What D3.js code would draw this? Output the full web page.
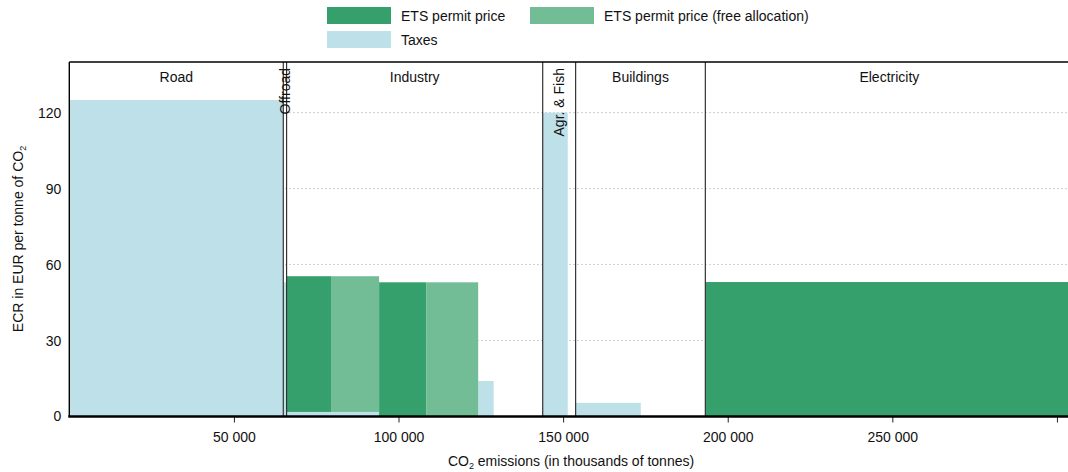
<!DOCTYPE html>
<html>
<head>
<meta charset="utf-8">
<script src="https://cdn.jsdelivr.net/npm/d3@7"></script>
<style>
  body { margin: 0; background: #fff; }
  svg { font-family: "Liberation Sans", Arial, sans-serif; }
</style>
</head>
<body>
<div id="chart"></div>
<script>
// sectors along the x axis (cumulative emissions, thousands of tonnes)
var sectors      = ['Road', 'Offroad', 'Industry', 'Agr. & Fish', 'Buildings', 'Electricity'];
var sectorEnd    = [65000, 66000, 143800, 153800, 193200, 305000];
var rotatedLabel = [false, true, false, true, false, false];

// blocks inside the sectors
var blockStart = [0, 65000, 66000, 94100, 124200, 143800, 153800, 193200];
var blockEnd   = [65000, 66000, 94100, 124200, 128900, 151400, 173600, 305000];
var paidEnd    = [null, null, 79500, 108400, null, null, null, 305000]; // ETS paid part ends, free allocation after
var taxes      = [125, 53, 1.8, 0, 14, 120, 5.4, 0];
var etsPrice   = [0, 0, 53.6, 53, 0, 0, 0, 53.1];

var yTicks = [0, 30, 60, 90, 120];
var xTicks = [50000, 100000, 150000, 200000, 250000, 300000];
var xTickLabels = ['50 000', '100 000', '150 000', '200 000', '250 000', '']; // last one falls off the page

var legendLabels = ['ETS permit price', 'ETS permit price (free allocation)', 'Taxes'];
var colors = { ets: '#35a06b', free: '#72bd95', tax: '#bee0e9' };

var width = 1068, height = 472;
var margin = { left: 69.3, top: 62, bottom: 416.5 };

var svg = d3.select('#chart').append('svg')
  .attr('width', width).attr('height', height);

var x = d3.scaleLinear().domain([0, 305000]).range([margin.left, 1073.4]);
var y = d3.scaleLinear().domain([0, 140]).range([margin.bottom, margin.top]);

// gridlines
svg.append('g').selectAll('line')
  .data(yTicks.slice(1))
  .enter().append('line')
  .attr('x1', margin.left).attr('x2', width)
  .attr('y1', function (d) { return y(d); })
  .attr('y2', function (d) { return y(d); })
  .attr('stroke', '#b5b5b5')
  .attr('stroke-width', 1)
  .attr('stroke-dasharray', '1.3,2.7');

// bars
var blocks = d3.range(blockStart.length);
var g = svg.append('g');

// taxes at the bottom
g.selectAll('rect.tax').data(blocks.filter(function (i) { return taxes[i] > 0; }))
  .enter().append('rect').attr('class', 'tax')
  .attr('x', function (i) { return x(blockStart[i]); })
  .attr('width', function (i) { return x(blockEnd[i]) - x(blockStart[i]); })
  .attr('y', function (i) { return y(taxes[i]); })
  .attr('height', function (i) { return y(0) - y(taxes[i]); })
  .attr('fill', colors.tax);

// ETS paid part
g.selectAll('rect.ets').data(blocks.filter(function (i) { return etsPrice[i] > 0; }))
  .enter().append('rect').attr('class', 'ets')
  .attr('x', function (i) { return x(blockStart[i]); })
  .attr('width', function (i) { return x(paidEnd[i]) - x(blockStart[i]); })
  .attr('y', function (i) { return y(taxes[i] + etsPrice[i]); })
  .attr('height', function (i) { return y(taxes[i]) - y(taxes[i] + etsPrice[i]); })
  .attr('fill', colors.ets);

// ETS free allocation part
g.selectAll('rect.free').data(blocks.filter(function (i) { return etsPrice[i] > 0 && paidEnd[i] < blockEnd[i]; }))
  .enter().append('rect').attr('class', 'free')
  .attr('x', function (i) { return x(paidEnd[i]); })
  .attr('width', function (i) { return x(blockEnd[i]) - x(paidEnd[i]); })
  .attr('y', function (i) { return y(taxes[i] + etsPrice[i]); })
  .attr('height', function (i) { return y(taxes[i]) - y(taxes[i] + etsPrice[i]); })
  .attr('fill', colors.free);

// sector borders
svg.append('g').selectAll('line')
  .data(sectorEnd.slice(0, -1))
  .enter().append('line')
  .attr('x1', function (d) { return x(d); }).attr('x2', function (d) { return x(d); })
  .attr('y1', margin.top).attr('y2', margin.bottom)
  .attr('stroke', '#333').attr('stroke-width', 1.2);

// sector labels
var sectorStart = [0].concat(sectorEnd.slice(0, -1));
svg.append('g').selectAll('text')
  .data(sectors)
  .enter().append('text')
  .attr('font-size', 14).attr('fill', '#111')
  .attr('transform', function (d, i) {
    var cx = x((sectorStart[i] + sectorEnd[i]) / 2);
    return rotatedLabel[i] ? 'translate(' + (cx + 5) + ',68) rotate(-90)' : 'translate(' + cx + ',82)';
  })
  .attr('text-anchor', function (d, i) { return rotatedLabel[i] ? 'end' : 'middle'; })
  .text(function (d) { return d; });

// frame: left and top
svg.append('line').attr('x1', margin.left).attr('x2', margin.left)
  .attr('y1', margin.top).attr('y2', margin.bottom)
  .attr('stroke', '#000').attr('stroke-width', 1.4);
svg.append('line').attr('x1', margin.left).attr('x2', width)
  .attr('y1', margin.top).attr('y2', margin.top)
  .attr('stroke', '#000').attr('stroke-width', 1.4);

// x axis
var xAxis = svg.append('g')
  .attr('transform', 'translate(0,' + margin.bottom + ')')
  .call(d3.axisBottom(x).tickValues(xTicks)
    .tickFormat(function (d, i) { return xTickLabels[i]; })
    .tickSize(6).tickPadding(10));
xAxis.select('.domain').remove();
xAxis.selectAll('.tick line').attr('stroke', '#222');
xAxis.selectAll('text').attr('font-size', 14).attr('font-family', 'Liberation Sans, Arial, sans-serif').attr('fill', '#111');
svg.append('line').attr('x1', margin.left - 1).attr('x2', width)
  .attr('y1', margin.bottom).attr('y2', margin.bottom)
  .attr('stroke', '#000').attr('stroke-width', 2.4);

// y axis labels
var yAxis = svg.append('g')
  .attr('transform', 'translate(' + margin.left + ',0)')
  .call(d3.axisLeft(y).tickValues(yTicks).tickSize(0).tickPadding(8));
yAxis.select('.domain').remove();
yAxis.selectAll('text').attr('font-size', 14).attr('font-family', 'Liberation Sans, Arial, sans-serif').attr('fill', '#111');

// axis titles
var xt = svg.append('text').attr('x', 571).attr('y', 466)
  .attr('text-anchor', 'middle').attr('font-size', 14).attr('fill', '#111');
xt.append('tspan').text('CO');
xt.append('tspan').attr('font-size', 9).attr('dy', 3).text('2');
xt.append('tspan').attr('dy', -3).text(' emissions (in thousands of tonnes)');

var yt = svg.append('text').attr('transform', 'translate(23,239) rotate(-90)')
  .attr('text-anchor', 'middle').attr('font-size', 14).attr('fill', '#111');
yt.append('tspan').text('ECR in EUR per tonne of CO');
yt.append('tspan').attr('font-size', 9).attr('dy', 3).text('2');

// legend
var legendX = [327, 530, 327];
var legendY = [7, 7, 31];
var legendColor = [colors.ets, colors.free, colors.tax];
var lg = svg.append('g').selectAll('g')
  .data(legendLabels)
  .enter().append('g')
  .attr('transform', function (d, i) { return 'translate(' + legendX[i] + ',' + legendY[i] + ')'; });
lg.append('rect').attr('width', 64).attr('height', 17)
  .attr('fill', function (d, i) { return legendColor[i]; });
lg.append('text').attr('x', 74).attr('y', 14)
  .attr('font-size', 14).attr('fill', '#111')
  .text(function (d) { return d; });
</script>
</body>
</html>
